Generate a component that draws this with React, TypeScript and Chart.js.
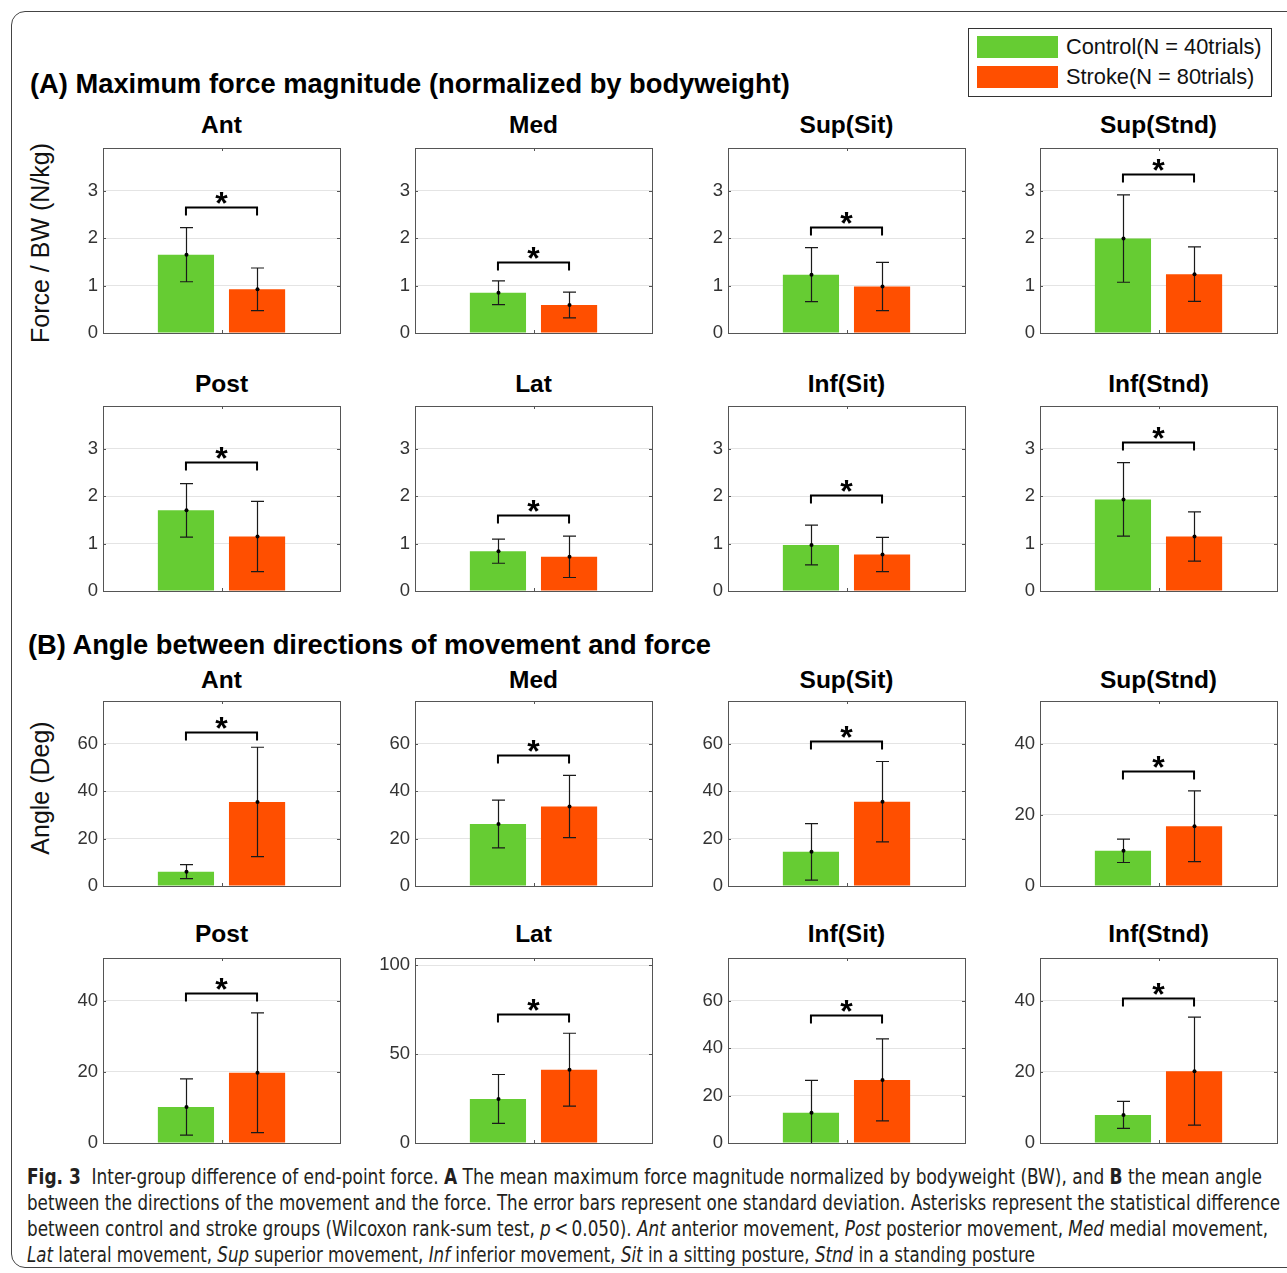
import React, { useEffect, useLayoutEffect, useRef } from 'react';
import { Chart, registerables } from 'chart.js';

Chart.register(...registerables);

// ---------------- DATA ----------------
const directions = ['Ant', 'Med', 'Sup(Sit)', 'Sup(Stnd)', 'Post', 'Lat', 'Inf(Sit)', 'Inf(Stnd)'];
const seriesNames = ['Control(N = 40trials)', 'Stroke(N = 80trials)'];

// (A) maximum force magnitude normalized by bodyweight (N/kg)
const forceControlMean = [1.65, 0.85, 1.23, 1.99, 1.70, 0.84, 0.97, 1.93];
const forceControlSD = [0.57, 0.25, 0.57, 0.92, 0.565, 0.255, 0.42, 0.775];
const forceStrokeMean = [0.92, 0.59, 0.98, 1.24, 1.15, 0.72, 0.77, 1.15];
const forceStrokeSD = [0.45, 0.27, 0.51, 0.575, 0.74, 0.435, 0.36, 0.52];
const forceSigLevel = [2.66, 1.5, 2.24, 3.35, 2.72, 1.6, 2.03, 3.14];
const forceYMax = [3.9, 3.9, 3.9, 3.9, 3.9, 3.9, 3.9, 3.9];
const forceTickStep = [1, 1, 1, 1, 1, 1, 1, 1];

// (B) angle between directions of movement and force (deg)
const angleControlMean = [6.05, 26.15, 14.4, 9.9, 10.1, 24.75, 12.8, 7.9];
const angleControlSD = [2.95, 10.05, 11.9, 3.3, 7.9, 13.75, 13.6, 3.8];
const angleStrokeMean = [35.45, 33.5, 35.55, 16.8, 19.75, 41.2, 26.6, 20.2];
const angleStrokeSD = [23.05, 13.1, 16.95, 9.95, 16.85, 20.5, 17.3, 15.2];
const angleSigLevel = [65, 55.1, 61, 32.2, 42.1, 72.3, 54, 40.8];
const angleYMax = [78, 78, 78, 52, 52, 104, 78, 52];
const angleTickStep = [20, 20, 20, 20, 20, 50, 20, 20];

// ---------------- STYLE / LAYOUT ----------------
const FONT = '"Liberation Sans", Arial, Helvetica, sans-serif';
const GREEN = '#66CC33';
const RED = '#FF4F00';
const colLeft = [103, 415, 728, 1040];
const rowTopA = [148, 406];
const rowTopB = [701, 958];
const titleCenterA = [125.6, 384.5];
const titleCenterB = [680.5, 934.5];
const BOX_W = 237;
const BOX_H = 185;
const PADL = 50;
const PADR = 6;
const PADT = 6;
const PADB = 6;

const overlayPlugin = {
  id: 'matlabOverlay',
  afterDatasetsDraw(chart: any) {
    const ctx = chart.ctx;
    const { left, right, top, bottom } = chart.chartArea;
    const yScale = chart.scales.y;
    const xScale = chart.scales.x;
    const extra = chart.options.plugins.matlabOverlay;
    ctx.save();

    // error bars
    ctx.save();
    ctx.beginPath();
    ctx.rect(left, top, right - left, bottom - top);
    ctx.clip();
    chart.data.datasets.forEach((ds: any, i: number) => {
      const meta = chart.getDatasetMeta(i);
      const bar = meta.data[0];
      const x = Math.round(bar.x) + 0.5;
      const m = ds.data[0];
      const sd = ds.sd[0];
      const yHi = yScale.getPixelForValue(m + sd);
      const yLo = yScale.getPixelForValue(m - sd);
      const yM = yScale.getPixelForValue(m);
      ctx.strokeStyle = '#1a1a1a';
      ctx.lineWidth = 1.2;
      ctx.beginPath();
      ctx.moveTo(x, yHi);
      ctx.lineTo(x, yLo);
      ctx.moveTo(x - 6.5, yHi);
      ctx.lineTo(x + 6.5, yHi);
      ctx.moveTo(x - 6.5, yLo);
      ctx.lineTo(x + 6.5, yLo);
      ctx.stroke();
      ctx.fillStyle = '#000';
      ctx.beginPath();
      ctx.arc(x, yM, 2, 0, Math.PI * 2);
      ctx.fill();
    });
    ctx.restore();

    // box + inner ticks
    ctx.strokeStyle = '#555';
    ctx.lineWidth = 1;
    ctx.strokeRect(left + 0.5, top + 0.5, right - left, bottom - top);
    ctx.beginPath();
    yScale.ticks.forEach((t: any) => {
      const y = Math.round(yScale.getPixelForValue(t.value)) + 0.5;
      ctx.moveTo(left, y);
      ctx.lineTo(left + 3, y);
      ctx.moveTo(right, y);
      ctx.lineTo(right - 3, y);
    });
    const xc = Math.round(xScale.getPixelForValue(0)) + 0.5;
    ctx.moveTo(xc, top);
    ctx.lineTo(xc, top + 3);
    ctx.moveTo(xc, bottom);
    ctx.lineTo(xc, bottom - 3);
    ctx.stroke();

    // significance bracket
    const x0 = chart.getDatasetMeta(0).data[0].x;
    const x1 = chart.getDatasetMeta(1).data[0].x;
    const yb = Math.round(yScale.getPixelForValue(extra.sig)) + 0.5;
    ctx.strokeStyle = '#000';
    ctx.lineWidth = 2;
    ctx.beginPath();
    ctx.moveTo(x0, yb + 8);
    ctx.lineTo(x0, yb);
    ctx.lineTo(x1, yb);
    ctx.lineTo(x1, yb + 8);
    ctx.stroke();
    ctx.fillStyle = '#000';
    ctx.font = 'bold 32px ' + FONT;
    ctx.textAlign = 'center';
    ctx.textBaseline = 'alphabetic';
    const mt = ctx.measureText('*');
    const cy = yb - 10;
    const base = cy - (mt.actualBoundingBoxDescent - mt.actualBoundingBoxAscent) / 2;
    ctx.fillText('*', (x0 + x1) / 2, base);
    ctx.restore();
  },
};

type PanelProps = {
  title: string;
  controlMean: number;
  controlSD: number;
  strokeMean: number;
  strokeSD: number;
  sig: number;
  yMax: number;
  step: number;
  left: number;
  top: number;
};

function Panel(p: PanelProps) {
  const ref = useRef<HTMLCanvasElement>(null);
  const cw = PADL + BOX_W + PADR;
  const ch = PADT + BOX_H + PADB;
  useEffect(() => {
    if (!ref.current) return;
    const chart = new Chart(ref.current, {
      type: 'bar',
      data: {
        labels: [p.title],
        datasets: [
          {
            label: seriesNames[0],
            data: [p.controlMean],
            sd: [p.controlSD],
            backgroundColor: GREEN,
            categoryPercentage: 0.6,
            barPercentage: 0.79,
          } as any,
          {
            label: seriesNames[1],
            data: [p.strokeMean],
            sd: [p.strokeSD],
            backgroundColor: RED,
            categoryPercentage: 0.6,
            barPercentage: 0.79,
          } as any,
        ],
      },
      options: {
        animation: false,
        responsive: false,
        maintainAspectRatio: false,
        devicePixelRatio: 1,
        events: [],
        layout: { padding: { left: 0, right: PADR, top: PADT, bottom: PADB } },
        plugins: {
          legend: { display: false },
          title: { display: false },
          tooltip: { enabled: false },
          matlabOverlay: { sig: p.sig },
        } as any,
        scales: {
          x: { display: false, offset: true },
          y: {
            min: 0,
            max: p.yMax,
            afterFit: (s: any) => {
              s.width = PADL;
              s.paddingTop = 0;
              s.paddingBottom = 0;
            },
            ticks: {
              stepSize: p.step,
              includeBounds: false,
              color: '#333',
              padding: 5,
              font: { family: FONT, size: 18.5 },
            },
            grid: { color: '#e4e4e4', drawTicks: false, lineWidth: 1 },
            border: { display: false },
          },
        },
      },
      plugins: [overlayPlugin],
    });
    return () => chart.destroy();
  }, []);
  return (
    <canvas
      ref={ref}
      width={cw}
      height={ch}
      style={{ position: 'absolute', left: p.left - PADL, top: p.top - PADT, width: cw, height: ch }}
    />
  );
}

function CaptionLine({ top, target, children }: { top: number; target: number; children: any }) {
  const ref = useRef<HTMLDivElement>(null);
  useLayoutEffect(() => {
    const el = ref.current;
    if (!el) return;
    el.style.transform = 'none';
    const w = el.getBoundingClientRect().width;
    if (w > 0) el.style.transform = `scaleX(${target / w})`;
  }, []);
  return (
    <div
      ref={ref}
      style={{
        position: 'absolute',
        left: 27,
        top,
        whiteSpace: 'nowrap',
        fontFamily: '"Liberation Sans Narrow", "Arial Narrow", "DejaVu Sans Condensed", "Liberation Sans", sans-serif',
        fontStretch: 'condensed',
        fontSize: 20.5,
        lineHeight: '26px',
        color: '#231f20',
        transformOrigin: '0 0',
        display: 'inline-block',
      }}
    >
      {children}
    </div>
  );
}

export default function App() {
  const panels: any[] = [];
  for (let i = 0; i < 8; i++) {
    const r = Math.floor(i / 4);
    const c = i % 4;
    panels.push({
      key: 'A' + i,
      title: directions[i],
      controlMean: forceControlMean[i],
      controlSD: forceControlSD[i],
      strokeMean: forceStrokeMean[i],
      strokeSD: forceStrokeSD[i],
      sig: forceSigLevel[i],
      yMax: forceYMax[i],
      step: forceTickStep[i],
      left: colLeft[c],
      top: rowTopA[r],
      titleY: titleCenterA[r],
    });
  }
  for (let i = 0; i < 8; i++) {
    const r = Math.floor(i / 4);
    const c = i % 4;
    panels.push({
      key: 'B' + i,
      title: directions[i],
      controlMean: angleControlMean[i],
      controlSD: angleControlSD[i],
      strokeMean: angleStrokeMean[i],
      strokeSD: angleStrokeSD[i],
      sig: angleSigLevel[i],
      yMax: angleYMax[i],
      step: angleTickStep[i],
      left: colLeft[c],
      top: rowTopB[r],
      titleY: titleCenterB[r],
    });
  }

  const TF = 24.5;
  return (
    <div
      style={{
        position: 'absolute',
        left: 0,
        top: 0,
        width: 1287,
        height: 1273,
        overflow: 'hidden',
        background: '#fff',
        fontFamily: FONT,
      }}
    >
      <div
        style={{
          position: 'absolute',
          left: 11,
          top: 11,
          width: 1320,
          height: 1257,
          border: '1px solid #444',
          borderRadius: 14,
          boxSizing: 'border-box',
        }}
      />
      <div
        style={{
          position: 'absolute',
          left: 30,
          top: 83 - 13.5,
          fontSize: 27.3,
          lineHeight: '27px',
          fontWeight: 'bold',
          whiteSpace: 'nowrap',
          color: '#000',
        }}
      >
        (A) Maximum force magnitude (normalized by bodyweight)
      </div>
      <div
        style={{
          position: 'absolute',
          left: 28,
          top: 644 - 13.5,
          fontSize: 27.3,
          lineHeight: '27px',
          fontWeight: 'bold',
          whiteSpace: 'nowrap',
          color: '#000',
        }}
      >
        (B) Angle between directions of movement and force
      </div>

      {/* legend */}
      <div
        style={{
          position: 'absolute',
          left: 968,
          top: 28,
          width: 304,
          height: 69,
          border: '1px solid #333',
          boxSizing: 'border-box',
          background: '#fff',
        }}
      />
      {[0, 1].map((k) => (
        <React.Fragment key={k}>
          <div
            style={{
              position: 'absolute',
              left: 977,
              top: 36 + k * 30,
              width: 81,
              height: 22,
              background: k === 0 ? GREEN : RED,
            }}
          />
          <div
            style={{
              position: 'absolute',
              left: 1066,
              top: 47 + k * 30 - 11,
              fontSize: 21.8,
              lineHeight: '22px',
              whiteSpace: 'nowrap',
              color: '#111',
            }}
          >
            {seriesNames[k]}
          </div>
        </React.Fragment>
      ))}

      {/* y labels */}
      {[
        { t: 'Force / BW (N/kg)', y: 242.5 },
        { t: 'Angle (Deg)', y: 787.5 },
      ].map((l) => (
        <div
          key={l.t}
          style={{
            position: 'absolute',
            left: 40,
            top: l.y,
            transform: 'translate(-50%, -50%) rotate(-90deg)',
            fontSize: 25,
            lineHeight: '25px',
            whiteSpace: 'nowrap',
            color: '#111',
          }}
        >
          {l.t}
        </div>
      ))}

      {panels.map((p) => (
        <React.Fragment key={p.key}>
          <div
            style={{
              position: 'absolute',
              left: p.left,
              width: BOX_W,
              top: p.titleY - TF / 2,
              textAlign: 'center',
              fontSize: TF,
              lineHeight: TF + 'px',
              fontWeight: 'bold',
              whiteSpace: 'nowrap',
              color: '#000',
            }}
          >
            {p.title}
          </div>
          <Panel {...p} />
        </React.Fragment>
      ))}

      <CaptionLine top={1164} target={1235}>
        <b>Fig. 3</b>&nbsp;&nbsp;Inter-group difference of end-point force. <b>A</b> The mean maximum force magnitude
        normalized by bodyweight (BW), and <b>B</b> the mean angle
      </CaptionLine>
      <CaptionLine top={1190} target={1253}>
        between the directions of the movement and the force. The error bars represent one standard deviation. Asterisks
        represent the statistical difference
      </CaptionLine>
      <CaptionLine top={1216} target={1241}>
        between control and stroke groups (Wilcoxon rank-sum test, <i>p</i>&thinsp;&lt;&thinsp;0.050). <i>Ant</i> anterior
        movement, <i>Post</i> posterior movement, <i>Med</i> medial movement,
      </CaptionLine>
      <CaptionLine top={1242} target={1008}>
        <i>Lat</i> lateral movement, <i>Sup</i> superior movement, <i>Inf</i> inferior movement, <i>Sit</i> in a sitting
        posture, <i>Stnd</i> in a standing posture
      </CaptionLine>
    </div>
  );
}
